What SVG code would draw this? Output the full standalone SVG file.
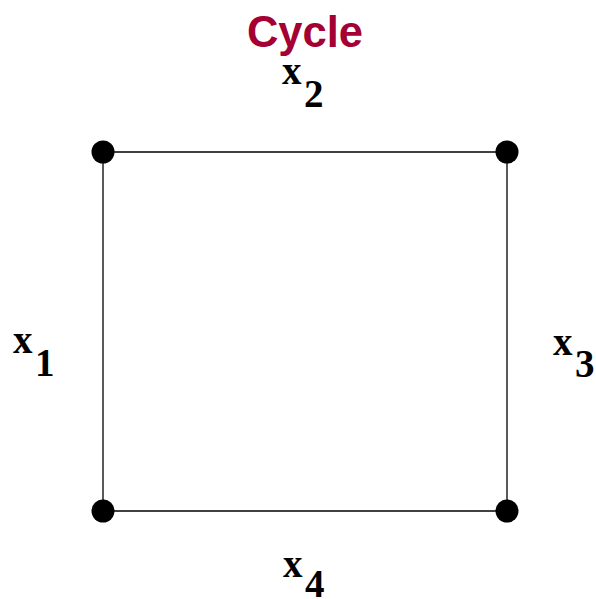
<svg xmlns="http://www.w3.org/2000/svg" width="596" height="599" viewBox="0 0 596 599">
<style>
.edge{stroke:#000;stroke-width:1.3;fill:none}
.node{fill:#000}
.lbl{font-family:"Liberation Serif","Times New Roman",serif;font-weight:bold;fill:#000}
.v{font-size:39px}
.s{font-size:39px}
.title{font-family:"Liberation Sans",Arial,sans-serif;font-weight:bold;font-size:43.5px;fill:#a50034}
</style>
<rect width="596" height="599" fill="#fff"/>
<text class="title" x="305" y="47" text-anchor="middle">Cycle</text>
<g id="edges">
<line class="edge" x1="103" y1="152" x2="507" y2="152"/>
<line class="edge" x1="507" y1="152" x2="507" y2="511"/>
<line class="edge" x1="507" y1="511" x2="103" y2="511"/>
<line class="edge" x1="103" y1="511" x2="103" y2="152"/>
</g>
<g id="n1"><circle class="node" cx="103" cy="152" r="11.5"/></g>
<g id="n2"><circle class="node" cx="507" cy="152" r="11.5"/></g>
<g id="n3"><circle class="node" cx="507" cy="511" r="11.5"/></g>
<g id="n4"><circle class="node" cx="103" cy="511" r="11.5"/></g>
<g id="label-x2"><text class="lbl v" x="282" y="84">x</text><text class="lbl s" x="304" y="107">2</text></g>
<g id="label-x1"><text class="lbl v" x="13" y="353">x</text><text class="lbl s" x="35" y="376">1</text></g>
<g id="label-x3"><text class="lbl v" x="553" y="355">x</text><text class="lbl s" x="575" y="377">3</text></g>
<g id="label-x4"><text class="lbl v" x="283" y="577">x</text><text class="lbl s" x="305" y="597">4</text></g>
</svg>
